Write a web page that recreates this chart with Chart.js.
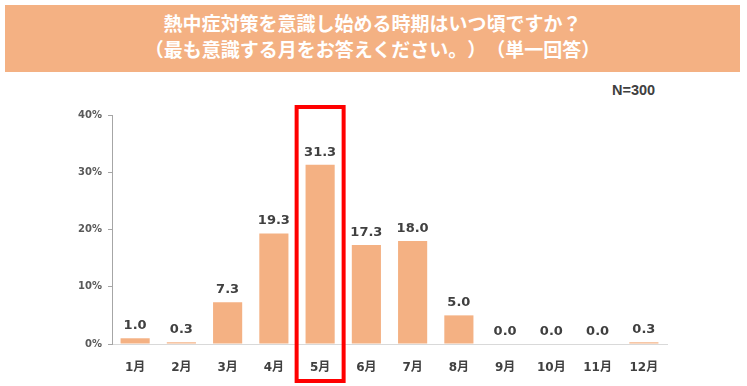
<!DOCTYPE html>
<html>
<head>
<meta charset="utf-8">
<script src="https://cdn.jsdelivr.net/npm/chart.js@4"></script>
<style>
  html, body { margin: 0; padding: 0; background: #fff; }
  #wrap { position: relative; width: 747px; height: 386px; }
  #banner {
    position: absolute; left: 5px; top: 5px; width: 735px; height: 67px;
    background: #F4B183; color: #fff; text-align: center;
    font-family: "Noto Sans CJK JP", sans-serif; font-weight: bold;
    font-size: 19px; line-height: 26px; padding-top: 5px; box-sizing: border-box;
    text-spacing-trim: space-all;
  }
  #n {
    position: absolute; left: 612px; top: 82px;
    font-family: "Liberation Sans", Arial, sans-serif; font-weight: bold;
    font-size: 14.5px; color: #404040;
  }
  canvas { position: absolute; left: 0; top: 0; }
</style>
</head>
<body>
<div id="wrap">
  <div id="banner">熱中症対策を意識し始める時期はいつ頃ですか？<br>（最も意識する月をお答えください。）（単一回答）</div>
  <div id="n">N=300</div>
  <canvas id="chart" width="747" height="386"></canvas>
</div>
<script>
// 月ごとの割合 (%)
const months = ['1月', '2月', '3月', '4月', '5月', '6月', '7月', '8月', '9月', '10月', '11月', '12月'];
const values = [1.0, 0.3, 7.3, 19.3, 31.3, 17.3, 18.0, 5.0, 0.0, 0.0, 0.0, 0.3];
const yTicks = [0, 10, 20, 30, 40];
const highlightIndex = 4;

// ラベル描画 + 赤枠
const labelPlugin = {
    id: 'labels',
    afterDatasetsDraw(chart) {
        const ctx = chart.ctx;
        const meta = chart.getDatasetMeta(0);
        ctx.save();
        ctx.font = 'bold 13px "DejaVu Sans", Verdana, sans-serif';
        ctx.fillStyle = '#404040';
        ctx.textAlign = 'center';
        ctx.textBaseline = 'bottom';
        meta.data.forEach((bar, i) => {
            ctx.fillText(values[i].toFixed(1), bar.x, bar.y - 6);
        });

        // 5月の強調枠
        const x = chart.scales.x;
        const cx = x.getPixelForValue(highlightIndex);
        const w = 47;
        ctx.strokeStyle = '#FF0000';
        ctx.lineWidth = 4;
        ctx.strokeRect(cx - w / 2, 107, w, 274);
        ctx.restore();
    }
};

new Chart(document.getElementById('chart'), {
    type: 'bar',
    data: {
        labels: months,
        datasets: [{
            data: values,
            backgroundColor: '#F4B183',
            barPercentage: 0.63,
            categoryPercentage: 1.0
        }]
    },
    options: {
        responsive: false,
        animation: false,
        layout: { padding: { top: 115, right: 80, left: 0, bottom: 0 } },
        plugins: {
            legend: { display: false },
            tooltip: { enabled: false }
        },
        scales: {
            x: {
                grid: { display: false },
                border: { color: '#D9D9D9', width: 1 },
                ticks: {
                    color: '#404040',
                    padding: 9,
                    font: { family: '"DejaVu Sans", "Noto Sans CJK JP", sans-serif', weight: 'bold', size: 12 }
                },
                afterFit(scale) { scale.height = 42; }
            },
            y: {
                min: 0,
                max: 40,
                afterBuildTicks(scale) {
                    scale.ticks = yTicks.map(v => ({ value: v }));
                },
                grid: { drawOnChartArea: false, tickLength: 4, color: '#A6A6A6' },
                border: { color: '#A6A6A6', width: 1 },
                ticks: {
                    color: '#595959',
                    padding: 6,
                    font: { family: '"DejaVu Sans", Verdana, sans-serif', weight: 'bold', size: 10 },
                    callback: v => v + '%'
                },
                afterFit(scale) { scale.width = 112; }
            }
        }
    },
    plugins: [labelPlugin]
});
</script>
</body>
</html>
